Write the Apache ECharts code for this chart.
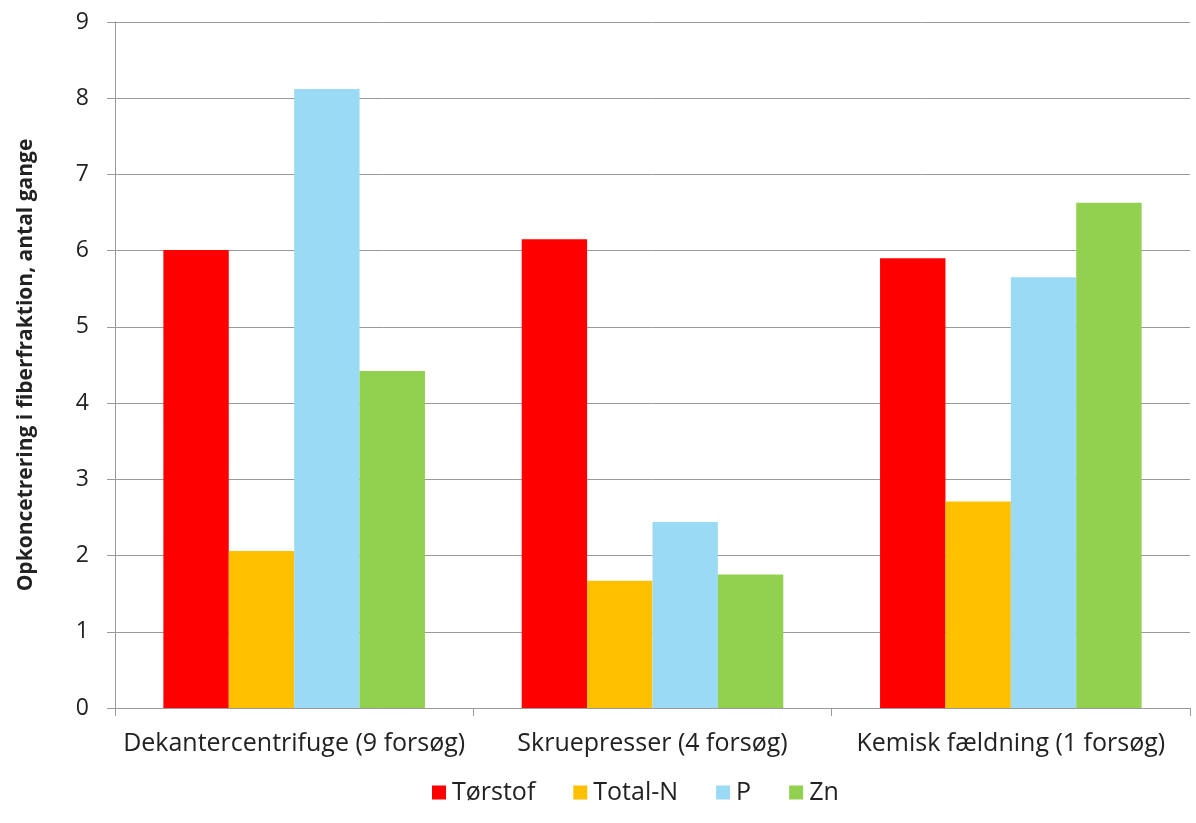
<!DOCTYPE html>
<html><head><meta charset="utf-8">
<script src="https://cdn.jsdelivr.net/npm/echarts@6/dist/echarts.min.js"></script>
<style>html,body{margin:0;padding:0;background:#fff}#c{width:1196px;height:823px}</style>
</head><body><div id="c"></div>
<script>
const categories = ['Dekantercentrifuge (9 forsøg)', 'Skruepresser (4 forsøg)', 'Kemisk fældning (1 forsøg)'];
const seriesNames = ['Tørstof', 'Total-N', 'P', 'Zn'];
const torstof = [6.01, 6.15, 5.90];
const totalN = [2.06, 1.67, 2.71];
const pVals = [8.12, 2.44, 5.65];
const znVals = [4.42, 1.75, 6.63];
const colors = ['#FF0000', '#FFC000', '#9BDAF5', '#92D050'];
const yTitle = 'Opkoncetrering i fiberfraktion, antal gange';

const font = '"Open Sans", Lato, sans-serif';
const chart = echarts.init(document.getElementById('c'));
const dataSets = [torstof, totalN, pVals, znVals];
chart.setOption({
  animation: false,
  textStyle: {fontFamily: font},
  grid: {left: 115, right: 6, top: 22, bottom: 115},
  legend: {
    top: 775, left: 427, itemWidth: 14, itemHeight: 14, itemGap: 38,
    icon: 'rect',
    textStyle: {fontSize: 25, color: '#222', fontFamily: font, padding: [0, 0, 0, 1]},
    data: seriesNames
  },
  xAxis: {
    type: 'category', data: categories,
    axisLine: {lineStyle: {color: '#9a9a9a'}},
    axisTick: {show: true, length: 8, interval: 0, lineStyle: {color: '#9a9a9a'}},
    axisLabel: {fontSize: 25, color: '#222', margin: 23, interval: 0, fontFamily: font}
  },
  yAxis: {
    type: 'value', min: 0, max: 9, interval: 1,
    name: yTitle, nameLocation: 'middle', nameGap: 78,
    nameTextStyle: {fontSize: 21, fontWeight: 'bold', color: '#222', fontFamily: font},
    axisLine: {show: true, lineStyle: {color: '#9a9a9a'}},
    axisTick: {show: true, length: 8, lineStyle: {color: '#9a9a9a'}},
    splitLine: {lineStyle: {color: '#9a9a9a'}},
    axisLabel: {fontSize: 23, color: '#222', margin: 26, fontFamily: font}
  },
  series: seriesNames.map((n, i) => ({
    name: n, type: 'bar', data: dataSets[i],
    itemStyle: {color: colors[i]},
    barGap: '0%', barCategoryGap: '27%'
  }))
});
</script></body></html>
